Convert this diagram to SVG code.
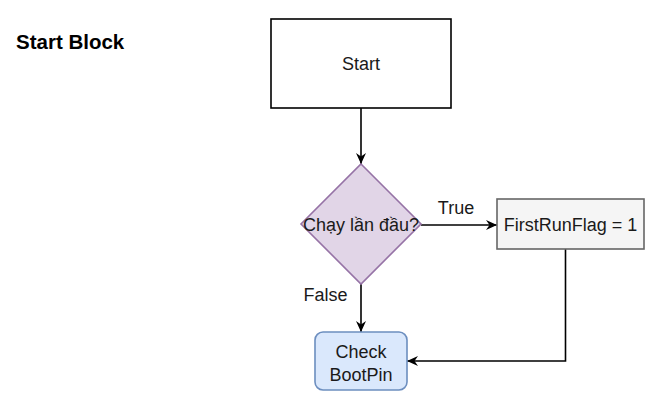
<svg xmlns="http://www.w3.org/2000/svg" width="657" height="406" viewBox="0 0 657 406">
<style>
text{font-family:"Liberation Sans",Arial,sans-serif;font-size:18px;fill:#1a1a1a}
.t{text-anchor:middle}
.c{fill:none;stroke:#000;stroke-width:1.6}
</style>
<defs>
<marker id="ah" markerUnits="userSpaceOnUse" markerWidth="12" markerHeight="12" viewBox="0 0 12 12" refX="11" refY="6" orient="auto">
<path d="M0,1 L11,6 L0,11 L3.5,6 Z" fill="#000"/>
</marker>
</defs>
<rect width="657" height="406" fill="#fff"/>
<text x="16" y="49" style="font-weight:bold;font-size:20.5px;fill:#000">Start Block</text>
<g id="connectors">
<path class="c" d="M361,108 V164" marker-end="url(#ah)"/>
<path class="c" d="M421,225 H497" marker-end="url(#ah)"/>
<path class="c" d="M361,284 V332" marker-end="url(#ah)"/>
<path class="c" d="M565.5,249 V361 H407" marker-end="url(#ah)"/>
<text class="t" x="456" y="214">True</text>
<text class="t" x="325.5" y="301">False</text>
</g>
<g id="start">
<rect x="271" y="19" width="180" height="89" fill="#fff" stroke="#000" stroke-width="1.6"/>
<text class="t" x="361" y="70">Start</text>
</g>
<g id="decision">
<path d="M361,164 L421,224 L361,284 L301,224 Z" fill="#e1d5e7" stroke="#9673a6" stroke-width="1.6"/>
<text class="t" x="361" y="231">Chạy lần đầu?</text>
</g>
<g id="firstrun">
<rect x="497" y="199" width="147" height="50" fill="#f5f5f5" stroke="#666" stroke-width="1.6"/>
<text class="t" x="570.5" y="231">FirstRunFlag = 1</text>
</g>
<g id="checkbootpin">
<rect x="315" y="332" width="92" height="58" rx="8" fill="#dae8fc" stroke="#6c8ebf" stroke-width="1.6"/>
<text class="t" x="361" y="358">Check</text>
<text class="t" x="361" y="381">BootPin</text>
</g>
</svg>
